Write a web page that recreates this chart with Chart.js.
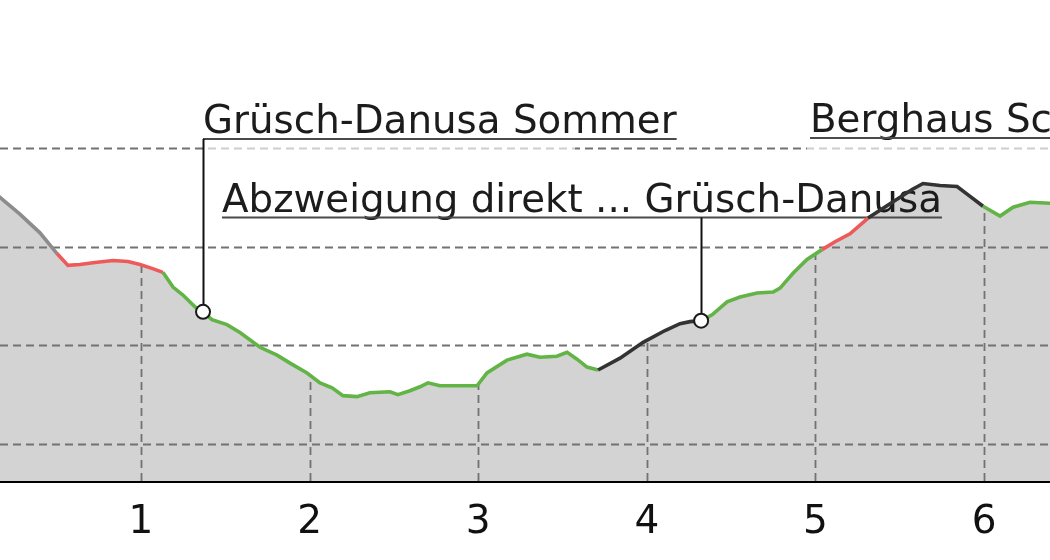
<!DOCTYPE html>
<html>
<head>
<meta charset="utf-8">
<script src="https://cdn.jsdelivr.net/npm/chart.js@4/dist/chart.umd.min.js"></script>
<style>html,body{margin:0;background:#fff}canvas{display:block}</style>
</head>
<body>
<canvas id="c" width="1050" height="560"></canvas>
<script>
// Elevation profile: distance along the route (km) vs. elevation (m).
const distKm = [0.10, 0.164, 0.282, 0.401, 0.502, 0.567, 0.638, 0.727, 0.834, 0.923, 0.994, 1.065,
  1.130, 1.190, 1.249, 1.320, 1.368, 1.421, 1.510, 1.587, 1.706, 1.807, 1.884, 1.985, 2.062, 2.133,
  2.198, 2.281, 2.358, 2.477, 2.524, 2.595, 2.655, 2.702, 2.773, 2.993, 3.052, 3.171, 3.289, 3.366,
  3.467, 3.527, 3.586, 3.645, 3.711, 3.841, 3.978, 4.108, 4.197, 4.256, 4.322, 4.387, 4.476, 4.553,
  4.654, 4.749, 4.790, 4.867, 4.950, 5.039, 5.116, 5.205, 5.312, 5.401, 5.502, 5.573, 5.638, 5.739,
  5.840, 5.917, 5.994, 6.095, 6.172, 6.273, 6.391, 6.450];
const elevM = [1758, 1750, 1733, 1714, 1693, 1681, 1682, 1684, 1686, 1685, 1682, 1678,
  1674, 1659, 1651, 1639, 1634, 1626, 1621, 1613, 1598, 1590, 1582, 1572, 1562, 1557,
  1549, 1548, 1552, 1553, 1550, 1554, 1558, 1562, 1559, 1559, 1572, 1585, 1591, 1588,
  1589, 1593, 1586, 1578, 1575, 1587, 1603, 1615, 1622, 1624, 1625, 1631, 1644, 1649,
  1653, 1654, 1658, 1673, 1687, 1697, 1705, 1713, 1729, 1739, 1750, 1758, 1764, 1762,
  1761, 1751, 1741, 1731, 1740, 1745, 1744, 1745];
// sections of the way, each running from its start km to the next one
const sectionFrom = [0, 0.502, 1.130, 3.711, 4.322, 5.039, 5.312, 5.994];
const sectionKind = ['unknown', 'hard', 'easy', 'road', 'easy', 'hard', 'road', 'easy'];
const kmTicks = [1, 2, 3, 4, 5, 6];
const elevGrid = [1500, 1600, 1700, 1800];
const poiName = ['Grüsch-Danusa Sommer', 'Abzweigung direkt ... Grüsch-Danusa', 'Berghaus Schwänzelegg'];
const poiKm = [1.368, 4.322, 7.5];
const poiElev = [1634, 1625, 1750];

const KIND_COLOR = { unknown: '#8c8c8c', hard: '#ee5a5a', easy: '#62b446', road: '#333333' };
const FONT = '"DejaVu Sans", sans-serif';
// label text placement (pixels): left edge, baseline, light box behind the top labels
const LABEL_POS = [
  { left: 203, base: 133, box: [203, 95, 372, 57] },
  { left: 222, base: 211.5, box: null },
  { left: 810, base: 132, box: [807, 95, 400, 57] },
];

const kindAt = (km) => {
  let k = sectionKind[0];
  sectionFrom.forEach((f, i) => { if (km >= f) k = sectionKind[i]; });
  return k;
};
const profile = distKm.map((x, i) => ({ x, y: elevM[i] }));
const pois = poiKm.map((x, i) => ({ x, y: poiElev[i] }));

function drawGrid(chart) {
  const { ctx, chartArea: a, scales: { x, y } } = chart;
  ctx.save();
  ctx.strokeStyle = '#727272'; ctx.lineWidth = 1.8; ctx.setLineDash([8, 5]);
  for (const v of elevGrid) {
    const py = Math.round(y.getPixelForValue(v)) + 0.5;
    ctx.beginPath(); ctx.moveTo(a.left, py); ctx.lineTo(a.right, py); ctx.stroke();
  }
  // vertical lines only inside the filled profile
  const pts = chart.getDatasetMeta(2).data;
  ctx.beginPath();
  ctx.moveTo(pts[0].x, a.bottom);
  pts.forEach((p) => ctx.lineTo(p.x, p.y));
  ctx.lineTo(pts[pts.length - 1].x, a.bottom);
  ctx.closePath();
  ctx.clip();
  for (const v of kmTicks) {
    const px = Math.round(x.getPixelForValue(v)) + 0.5;
    ctx.beginPath(); ctx.moveTo(px, a.bottom); ctx.lineTo(px, a.top); ctx.stroke();
  }
  ctx.restore();
}

function drawLabels(chart) {
  const { ctx } = chart;
  ctx.save();
  ctx.font = '38.8px ' + FONT;
  LABEL_POS.forEach((l, i) => {
    if (l.box) { ctx.fillStyle = 'rgba(255,255,255,0.65)'; ctx.fillRect(...l.box); }
    ctx.fillStyle = '#1c1c1c';
    ctx.fillText(poiName[i], l.left, l.base);
    const w = ctx.measureText(poiName[i]).width;
    ctx.strokeStyle = '#4a4a4a'; ctx.lineWidth = 2;
    ctx.beginPath(); ctx.moveTo(l.left, l.base + 6); ctx.lineTo(l.left + w, l.base + 6); ctx.stroke();
  });
  ctx.restore();
}

function drawLeaders(chart) {
  const { ctx, scales: { x, y } } = chart;
  ctx.save();
  ctx.strokeStyle = '#111'; ctx.lineWidth = 2;
  pois.forEach((p, i) => {
    const px = Math.round(x.getPixelForValue(p.x)) + 0.5;
    ctx.beginPath(); ctx.moveTo(px, LABEL_POS[i].base + 6); ctx.lineTo(px, y.getPixelForValue(p.y)); ctx.stroke();
  });
  ctx.restore();
}

const deco = {
  id: 'deco',
  beforeDatasetDraw(chart, args) {
    if (args.index === 1) { drawGrid(chart); drawLabels(chart); }
    if (args.index === 0) drawLeaders(chart);
  },
};

new Chart(document.getElementById('c'), {
  type: 'line',
  data: {
    datasets: [
      { data: pois, showLine: false, pointRadius: 7, pointHoverRadius: 7, pointBackgroundColor: '#fff',
        pointBorderColor: '#1a1a1a', pointBorderWidth: 2, order: 0 },
      { data: profile, fill: false, pointRadius: 0, borderWidth: 3.6, tension: 0, order: 1,
        borderColor: KIND_COLOR.easy,
        segment: { borderColor: (c) => KIND_COLOR[kindAt(c.p0.parsed.x)] } },
      { data: profile, fill: 'start', backgroundColor: '#d3d3d3', borderWidth: 0, pointRadius: 0, order: 2 },
    ],
  },
  options: {
    responsive: false, animation: false, events: [],
    layout: { autoPadding: false, padding: 0 },
    plugins: { legend: { display: false }, tooltip: { enabled: false } },
    scales: {
      x: {
        type: 'linear', min: 0.164, max: 6.391, z: 1,
        afterFit: (s) => { s.height = 79; },
        grid: { display: false, drawTicks: false },
        border: { display: true, color: '#000', width: 3 },
        ticks: { stepSize: 1, includeBounds: false, autoSkip: false, maxRotation: 0, padding: 18.1,
          color: '#111', font: { family: FONT, size: 39 }, callback: (v) => String(v) },
      },
      y: { display: false, min: 1462.5, max: 1950 },
    },
  },
  plugins: [deco],
});
</script>
</body>
</html>
